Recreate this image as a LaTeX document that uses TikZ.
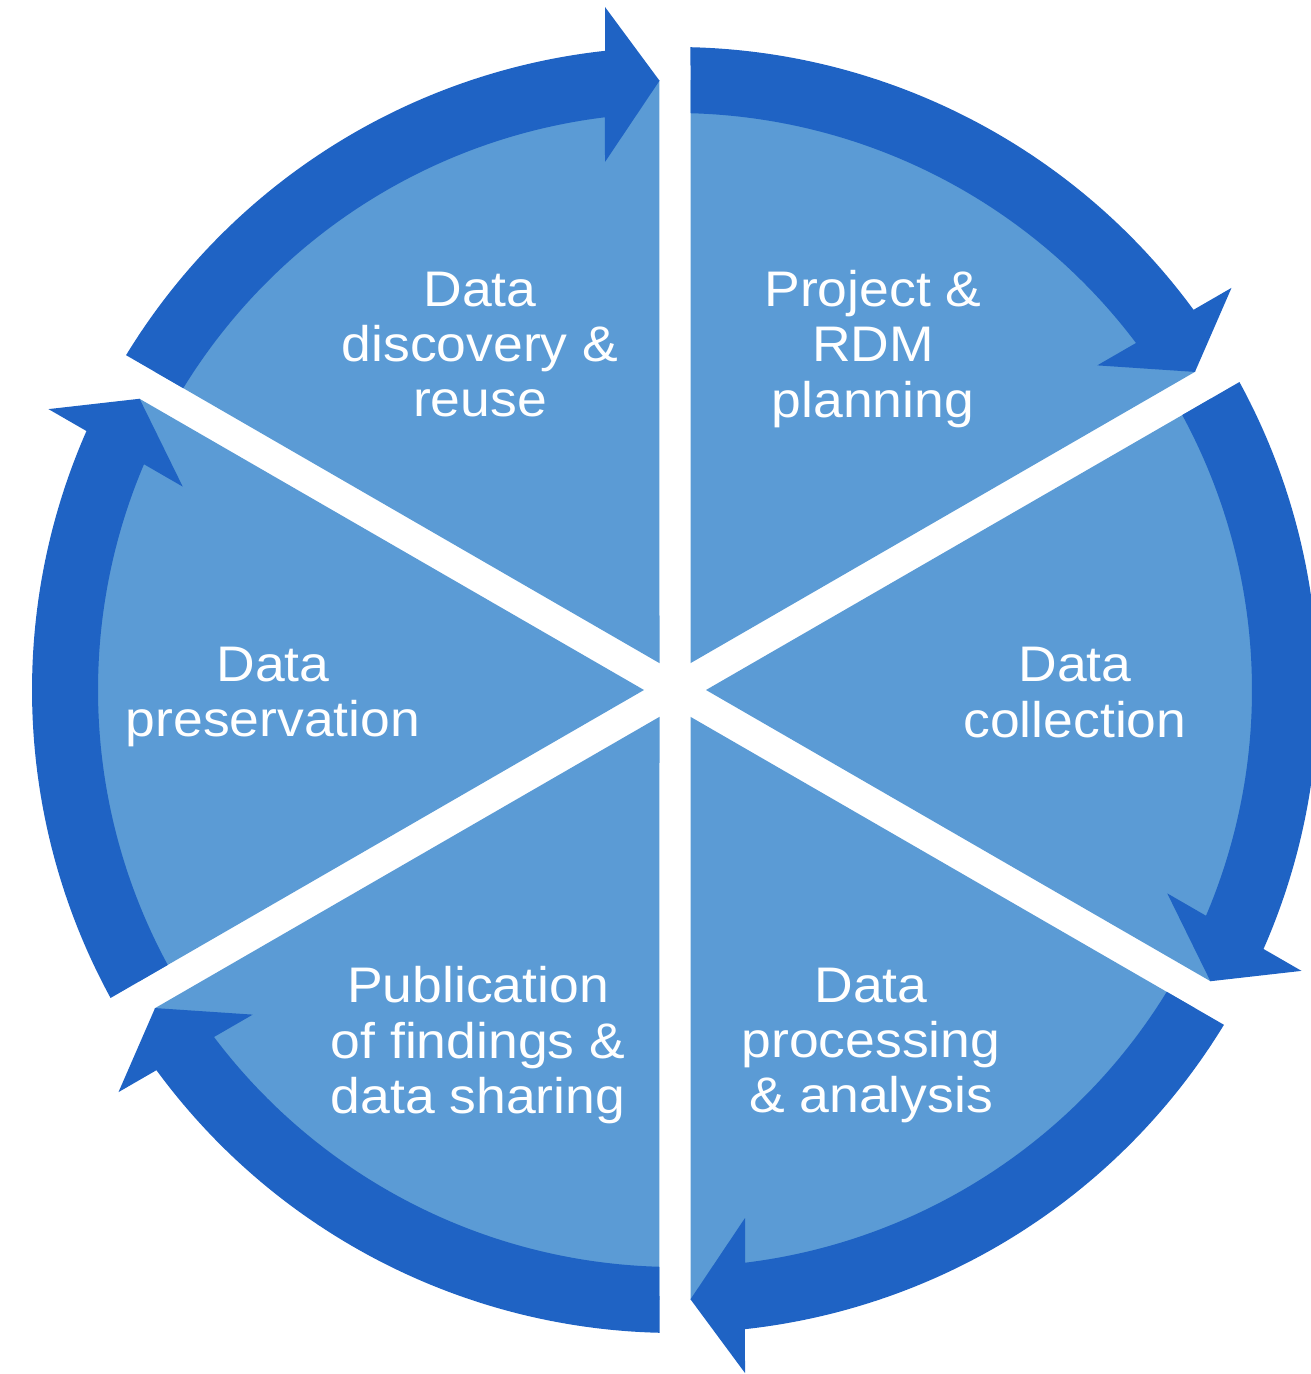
\documentclass[tikz,border=0pt]{standalone}
\usepackage{fontspec}
\newfontfamily\labelfont{Liberation Sans}[FakeStretch=1.07]
\definecolor{ringblue}{RGB}{31,99,196}
\definecolor{wedgeblue}{RGB}{91,155,213}
\tikzset{
  wedge/.style={fill=wedgeblue},
  cyclearrow/.style={fill=ringblue},
  stage/.style={text=white, align=center, inner sep=0pt,
    font=\labelfont\fontsize{25}{27.65}\selectfont},
}
\begin{document}
\begin{tikzpicture}[x=0.5pt,y=0.5pt]
\useasboundingbox (-675,-684) rectangle (635,690);
% six pie wedges separated by white gaps
\foreach \k in {0,...,5} {
  \begin{scope}[rotate=-60*\k]
    \path[wedge] (120:31) -- (91.46:610)
      arc[start angle=91.46, end angle=148.54, radius=610] -- cycle;
  \end{scope}
}
% six curved arrows running clockwise round the ring
\foreach \k in {0,...,5} {
  \begin{scope}[rotate=-60*\k]
    \path[cyclearrow] (148.62:643)
      arc[start angle=148.62, end angle=96.25, radius=643]
      -- (-70,683) -- (-15.5,609.3) -- (-70,528) -- (96.97:577)
      arc[start angle=96.97, end angle=148.46, radius=577] -- cycle;
  \end{scope}
}
% stage labels
\node[stage] (discovery)    at (-195,345.5) {Data\\discovery \&\\reuse};
\node[stage] (planning)     at (198,341)    {Project \&\\RDM\\planning};
\node[stage] (collection)   at (400,-2.5)   {Data\\collection};
\node[stage] (processing)   at (196,-355.3) {Data\\processing\\\& analysis};
\node[stage] (publication)  at (-197,-355.3){Publication\\of findings \&\\data sharing};
\node[stage] (preservation) at (-402,-7.3)  {Data\\preservation};
\end{tikzpicture}
\end{document}
